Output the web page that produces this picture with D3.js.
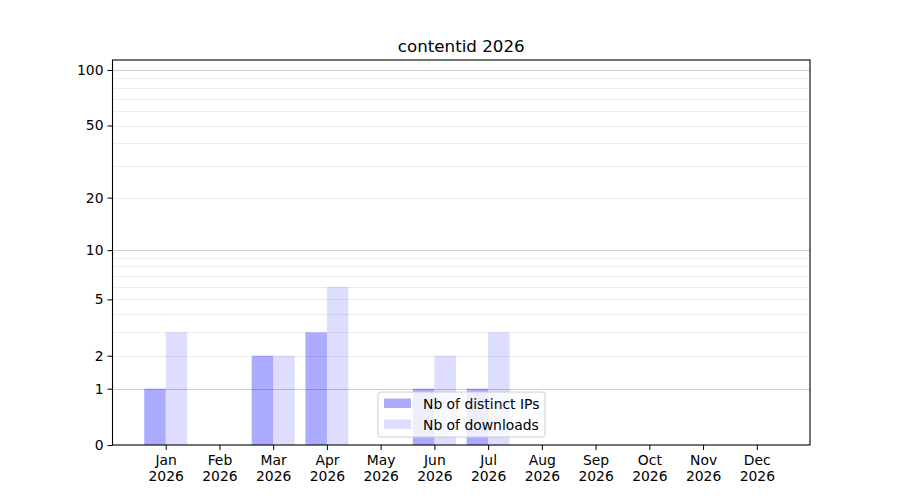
<!DOCTYPE html>
<html>
<head>
<meta charset="UTF-8">
<title>contentid 2026</title>
<script src="https://cdn.jsdelivr.net/npm/d3@7"></script>
<style>
  body { margin: 0; background: #fff; }
  svg { font-family: "DejaVu Sans", sans-serif; }
  .grid-major { stroke: #cccccc; stroke-width: 1; shape-rendering: crispEdges; }
  .grid-minor { stroke: #ececec; stroke-width: 1; shape-rendering: crispEdges; }
</style>
</head>
<body>
<div id="root"></div>
<script>
  const months = ["Jan","Feb","Mar","Apr","May","Jun","Jul","Aug","Sep","Oct","Nov","Dec"]
  const year = "2026"
  const ips = [1, 0, 2, 3, 0, 1, 1, 0, 0, 0, 0, 0]
  const downloads = [3, 0, 2, 6, 0, 2, 3, 0, 0, 0, 0, 0]
  const yTicks = [0, 1, 2, 5, 10, 20, 50, 100]
  const gridMajor = [1, 10, 100]
  const gridMinor = [2, 3, 4, 5, 6, 7, 8, 9, 20, 30, 40, 50, 60, 70, 80, 90]

  let width = 900, height = 500
  let mLeft = 112.5, mRight = 810, mTop = 60, mBottom = 445
  let fs = 13.9

  let svg = d3.select("#root").append("svg").attr("width", width).attr("height", height)

  let x = d3.scaleLinear().domain([-0.99, 11.99]).range([mLeft, mRight])
  let y = d3.scaleSymlog().constant(1).domain([0, 113.2]).range([mBottom, mTop])
  let bw = 0.4

  // grid behind the bars
  svg.append("g").selectAll("line").data(gridMinor).join("line")
    .attr("class", "grid-minor")
    .attr("x1", mLeft).attr("x2", mRight)
    .attr("y1", d => Math.round(y(d)) + 0.5).attr("y2", d => Math.round(y(d)) + 0.5)
  svg.append("g").selectAll("line").data(gridMajor).join("line")
    .attr("class", "grid-major")
    .attr("x1", mLeft).attr("x2", mRight)
    .attr("y1", d => Math.round(y(d)) + 0.5).attr("y2", d => Math.round(y(d)) + 0.5)

  svg.append("g").selectAll("rect").data(ips).join("rect")
    .attr("x", (d, i) => x(i - bw)).attr("width", x(bw) - x(0))
    .attr("y", d => y(d)).attr("height", d => mBottom - y(d))
    .attr("fill", "blue").attr("fill-opacity", 0.33)

  svg.append("g").selectAll("rect").data(downloads).join("rect")
    .attr("x", (d, i) => x(i)).attr("width", x(bw) - x(0))
    .attr("y", d => y(d)).attr("height", d => mBottom - y(d))
    .attr("fill", "blue").attr("fill-opacity", 0.135)

  // axes
  let xAxis = d3.axisBottom(x).tickValues(d3.range(12)).tickSize(5).tickPadding(5).tickFormat(() => "")
  let gx = svg.append("g").attr("transform", "translate(0," + mBottom + ")").call(xAxis)
  gx.select(".domain").remove()
  gx.selectAll(".tick text").each(function (d) {
    let t = d3.select(this).attr("font-size", fs).attr("fill", "#000").attr("font-family", "DejaVu Sans")
    t.append("tspan").attr("x", 0).attr("dy", "0.71em").text(months[d])
    t.append("tspan").attr("x", 0).attr("dy", "1.17em").text(year)
  })

  let yAxis = d3.axisLeft(y).tickValues(yTicks).tickSize(5).tickPadding(4).tickFormat(d3.format("d"))
  let gy = svg.append("g").attr("transform", "translate(" + mLeft + ",0)").call(yAxis)
  gy.select(".domain").remove()
  gy.selectAll(".tick text").attr("font-size", fs).attr("fill", "#000").attr("font-family", "DejaVu Sans")

  svg.append("rect").attr("x", mLeft).attr("y", mTop).attr("width", mRight - mLeft).attr("height", mBottom - mTop)
    .attr("fill", "none").attr("stroke", "#000").attr("stroke-width", 1.1)

  svg.append("text").attr("x", (mLeft + mRight) / 2).attr("y", 52).attr("text-anchor", "middle")
    .attr("font-size", 16.7).text("contentid 2026")

  // legend, lower center
  let lg = svg.append("g").attr("transform", "translate(378,392)")
  lg.append("rect").attr("width", 167).attr("height", 45).attr("rx", 3)
    .attr("fill", "#fff").attr("fill-opacity", 0.8).attr("stroke", "#cccccc")
  let items = [["Nb of distinct IPs", 0.33], ["Nb of downloads", 0.135]]
  items.forEach((it, i) => {
    lg.append("rect").attr("x", 6).attr("y", 6.5 + i * 21).attr("width", 27).attr("height", 9.5)
      .attr("fill", "blue").attr("fill-opacity", it[1])
    lg.append("text").attr("x", 45).attr("y", 16.5 + i * 21).attr("font-size", fs).text(it[0])
  })
</script>
</body>
</html>
